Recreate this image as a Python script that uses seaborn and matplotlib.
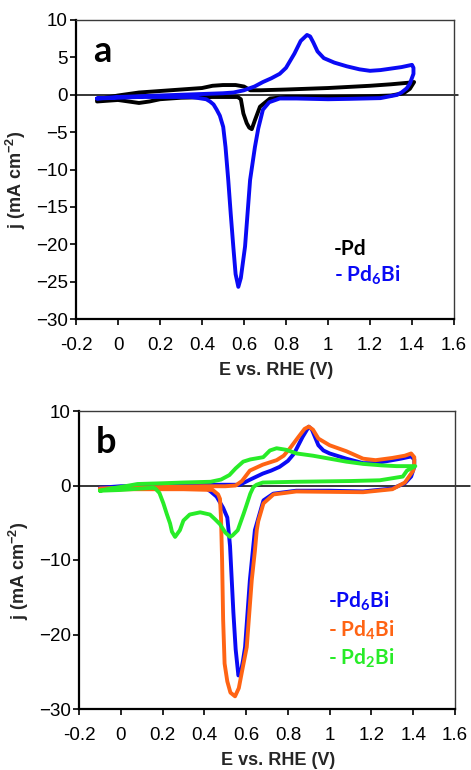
import numpy as np
import pandas as pd
import matplotlib
matplotlib.use("Agg")
import matplotlib.pyplot as plt
import seaborn as sns

# Panel a: Pd (black) -- anodic sweep then cathodic sweep
pd_up_E = [-0.1, 0.0, 0.1, 0.2, 0.3, 0.4, 0.45, 0.5, 0.56, 0.6, 0.63, 0.68, 0.8, 1.0, 1.2, 1.3, 1.38, 1.41]
pd_up_j = [-0.6, -0.1, 0.3, 0.5, 0.7, 0.9, 1.2, 1.3, 1.3, 1.1, 0.6, 0.6, 0.7, 0.9, 1.2, 1.4, 1.6, 1.7]
pd_dn_E = [1.41, 1.39, 1.36, 1.3, 1.2, 1.0, 0.8, 0.724, 0.676, 0.652, 0.637, 0.625, 0.613, 0.597, 0.585,
           0.57, 0.55, 0.45, 0.3, 0.2, 0.15, 0.1, 0.05, 0.0, -0.05, -0.1]
pd_dn_j = [1.7, 0.8, 0.2, -0.1, -0.2, -0.3, -0.3, -0.5, -1.6, -3.4, -4.6, -4.4, -3.8, -2.5, -0.6,
           -0.3, -0.3, -0.3, -0.4, -0.6, -0.9, -1.1, -0.9, -0.7, -0.8, -0.9]

# Panel a: Pd6Bi (blue)
pd6a_up_E = [-0.1, 0.0, 0.2, 0.4, 0.5, 0.55, 0.6, 0.65, 0.69, 0.73, 0.77, 0.8, 0.84, 0.87, 0.9, 0.915,
             0.93, 0.95, 0.98, 1.03, 1.09, 1.15, 1.2, 1.25, 1.3, 1.35, 1.4, 1.407]
pd6a_up_j = [-0.5, -0.3, -0.1, 0.1, 0.2, 0.3, 0.6, 1.1, 1.7, 2.2, 2.8, 3.6, 5.5, 7.2, 8.0, 7.8,
             7.0, 5.8, 4.9, 4.3, 3.8, 3.4, 3.2, 3.3, 3.5, 3.7, 4.0, 3.6]
pd6a_dn_E = [1.407, 1.39, 1.375, 1.35, 1.327, 1.25, 1.1, 1.0, 0.85, 0.77, 0.72, 0.69, 0.668, 0.652,
             0.629, 0.605, 0.585, 0.573, 0.56, 0.549, 0.537, 0.525, 0.512, 0.501, 0.485, 0.47, 0.455,
             0.438, 0.42, 0.35, 0.2, 0.1, 0.0, -0.1]
pd6a_dn_j = [2.8, 1.5, 0.86, 0.3, -0.03, -0.45, -0.55, -0.6, -0.5, -0.5, -1.0, -2.0, -4.5, -7.0,
             -11.4, -20.3, -24.5, -25.7, -24.0, -20.3, -16.0, -11.4, -7.0, -4.3, -2.8, -2.0, -1.3,
             -0.9, -0.6, -0.3, -0.3, -0.3, -0.4, -0.5]

# Panel b: Pd6Bi (blue)
pd6b_up_E = [-0.1, 0.0, 0.2, 0.4, 0.5, 0.57, 0.62, 0.68, 0.72, 0.76, 0.8, 0.83, 0.87, 0.9, 0.915,
             0.946, 0.97, 1.0, 1.08, 1.16, 1.22, 1.28, 1.34, 1.39, 1.405]
pd6b_up_j = [-0.3, -0.1, 0.0, 0.1, 0.1, 0.1, 0.8, 1.6, 2.0, 2.5, 3.3, 4.3, 6.5, 7.9, 7.5,
             5.4, 4.7, 4.3, 3.6, 3.0, 3.0, 3.3, 3.6, 3.9, 3.5]
pd6b_dn_E = [1.405, 1.39, 1.36, 1.3, 1.16, 1.0, 0.84, 0.73, 0.683, 0.642, 0.618, 0.595, 0.585, 0.575,
             0.563, 0.55, 0.539, 0.523, 0.51, 0.49, 0.459, 0.43, 0.41, 0.3, 0.1, -0.1]
pd6b_dn_j = [2.5, 1.2, 0.3, -0.4, -0.8, -0.7, -0.7, -1.1, -2.0, -6.0, -12.7, -21.7, -23.5, -25.0,
             -25.5, -22.0, -17.0, -8.1, -4.3, -3.0, -1.5, -0.8, -0.4, -0.3, -0.3, -0.4]

# Panel b: Pd4Bi (orange)
pd4_up_E = [-0.1, 0.0, 0.2, 0.4, 0.5, 0.55, 0.58, 0.618, 0.68, 0.746, 0.78, 0.81, 0.85, 0.88, 0.9,
            0.92, 0.946, 1.0, 1.08, 1.16, 1.22, 1.3, 1.36, 1.39, 1.405]
pd4_up_j = [-0.4, -0.3, -0.2, -0.1, -0.1, 0.0, 0.6, 2.0, 2.8, 3.4, 4.0, 5.0, 6.5, 7.6, 7.9,
            7.5, 6.3, 5.4, 4.6, 3.6, 3.4, 3.7, 4.0, 4.3, 3.8]
pd4_dn_E = [1.405, 1.40, 1.36, 1.3, 1.16, 0.84, 0.731, 0.683, 0.658, 0.651, 0.642, 0.627, 0.603, 0.58,
            0.565, 0.547, 0.525, 0.51, 0.497, 0.49, 0.485, 0.48, 0.475, 0.466, 0.44, 0.3, 0.1, -0.1]
pd4_dn_j = [3.0, 2.0, 0.4, -0.5, -0.9, -0.8, -1.2, -2.4, -4.8, -6.0, -8.8, -12.7, -21.7, -25.0,
            -27.2, -28.3, -27.8, -26.3, -23.9, -18.0, -10.0, -4.5, -1.8, -1.2, -0.6, -0.5, -0.5, -0.5]

# Panel b: Pd2Bi (green)
pd2_up_E = [-0.1, -0.05, 0.0, 0.08, 0.2, 0.3, 0.43, 0.48, 0.52, 0.55, 0.586, 0.62, 0.682, 0.714,
            0.746, 0.79, 0.842, 0.92, 1.0, 1.08, 1.16, 1.25, 1.32, 1.41]
pd2_up_j = [-0.7, -0.4, -0.2, 0.2, 0.3, 0.4, 0.5, 0.8, 1.4, 2.3, 3.2, 3.5, 3.8, 4.7,
            5.0, 4.8, 4.3, 4.0, 3.6, 3.2, 2.9, 2.7, 2.6, 2.6]
pd2_dn_E = [1.41, 1.37, 1.35, 1.24, 1.1, 0.84, 0.68, 0.65, 0.635, 0.62, 0.6, 0.588, 0.56, 0.535,
            0.523, 0.5, 0.475, 0.45, 0.427, 0.38, 0.33, 0.3, 0.283, 0.26, 0.245, 0.236, 0.22, 0.204,
            0.185, 0.165, 0.156, 0.1, 0.0, -0.1]
pd2_dn_j = [2.6, 2.0, 1.2, 0.7, 0.6, 0.5, 0.4, 0.1, -0.2, -1.1, -2.8, -3.8, -6.0, -6.7,
            -6.9, -6.3, -5.2, -4.5, -3.9, -3.6, -3.9, -4.7, -6.0, -6.9, -6.2, -5.1, -3.8, -2.4,
            -1.0, -0.4, -0.3, -0.4, -0.6, -0.7]

x_ticks = [-0.2, 0, 0.2, 0.4, 0.6, 0.8, 1, 1.2, 1.4, 1.6]
x_tick_labels = ["-0.2", "0", "0.2", "0.4", "0.6", "0.8", "1", "1.2", "1.4", "1.6"]
y_ticks_a = [-30, -25, -20, -15, -10, -5, 0, 5, 10]
y_ticks_b = [-30, -20, -10, 0, 10]

BLACK = "#000000"
BLUE = "#0a0af5"
ORANGE = "#ff6414"
GREEN = "#28ec28"

sns.set_style("white")
plt.rcParams["font.family"] = ["Liberation Sans", "DejaVu Sans"]

fig = plt.figure(figsize=(4.71, 7.70), dpi=100)
W, H = 471, 770
ax_a = fig.add_axes([76 / W, 1 - 319 / H, 378 / W, 299 / H])
ax_b = fig.add_axes([79 / W, 1 - 709 / H, 376 / W, 298 / H])


def draw_cv(ax, up_E, up_j, dn_E, dn_j, color):
    df = pd.DataFrame({"E": up_E + dn_E, "j": up_j + dn_j})
    sns.lineplot(data=df, x="E", y="j", sort=False, estimator=None, color=color,
                 lw=2.8, ax=ax, solid_joinstyle="round", solid_capstyle="round")


def style_axes(ax, yticks, letter, zero_extend):
    ax.axhline(0, xmin=0, xmax=zero_extend, color="black", lw=1.1, clip_on=False, zorder=1)
    ax.set_xlim(-0.2, 1.6)
    ax.set_ylim(-30, 10)
    ax.set_xticks(x_ticks)
    ax.set_xticklabels(x_tick_labels)
    ax.set_yticks(yticks)
    ax.tick_params(axis="both", direction="out", length=4, width=1.2, labelsize=13.5,
                   colors="black", left=True, bottom=True)
    ax.tick_params(axis="x", pad=9)
    ax.tick_params(axis="y", pad=2)
    for side in ["left", "bottom"]:
        ax.spines[side].set_color("black")
        ax.spines[side].set_linewidth(1.6)
    for side in ["top", "right"]:
        ax.spines[side].set_color("#3a3a3a")
        ax.spines[side].set_linewidth(1.0)
    ax.set_xlabel("E vs. RHE (V)", fontsize=13, fontweight="bold")
    ax.xaxis.set_label_coords(0.53, -0.145)
    ax.set_ylabel(r"j (mA cm$^{\mathregular{-2}}$)", fontsize=13, fontweight="bold")
    ax.yaxis.set_label_coords(-0.128, 0.465)
    ax.text(0.045, 0.86, letter, transform=ax.transAxes, fontsize=26, fontweight="bold",
            family="Lato", color="black")


# Panel a
draw_cv(ax_a, pd_up_E, pd_up_j, pd_dn_E, pd_dn_j, BLACK)
draw_cv(ax_a, pd6a_up_E, pd6a_up_j, pd6a_dn_E, pd6a_dn_j, BLUE)
style_axes(ax_a, y_ticks_a, "a", 1.01)
ax_a.text(0.683, 0.214, "-Pd", transform=ax_a.transAxes, fontsize=15, fontweight="bold",
          family="Lato", color=BLACK)
ax_a.text(0.683, 0.127, r"- Pd$_{\mathregular{6}}$Bi", transform=ax_a.transAxes, fontsize=15,
          fontweight="bold", family="Lato", color=BLUE)

# Panel b
draw_cv(ax_b, pd6b_up_E, pd6b_up_j, pd6b_dn_E, pd6b_dn_j, BLUE)
draw_cv(ax_b, pd4_up_E, pd4_up_j, pd4_dn_E, pd4_dn_j, ORANGE)
draw_cv(ax_b, pd2_up_E, pd2_up_j, pd2_dn_E, pd2_dn_j, GREEN)
style_axes(ax_b, y_ticks_b, "b", 1.04)
ax_b.text(0.662, 0.34, r"-Pd$_{\mathregular{6}}$Bi", transform=ax_b.transAxes, fontsize=15,
          fontweight="bold", family="Lato", color=BLUE)
ax_b.text(0.662, 0.245, r"- Pd$_{\mathregular{4}}$Bi", transform=ax_b.transAxes, fontsize=15,
          fontweight="bold", family="Lato", color=ORANGE)
ax_b.text(0.662, 0.151, r"- Pd$_{\mathregular{2}}$Bi", transform=ax_b.transAxes, fontsize=15,
          fontweight="bold", family="Lato", color=GREEN)

fig.savefig("out.png", dpi=100)
